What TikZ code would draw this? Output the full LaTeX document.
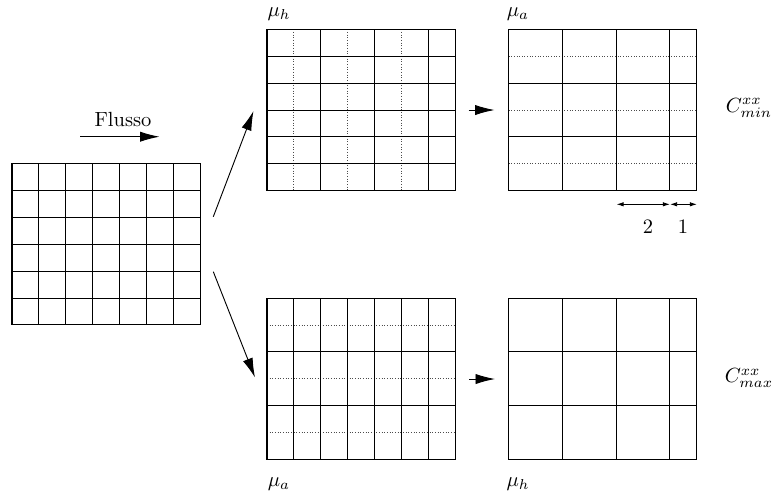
\documentclass[tikz,border=0pt]{standalone}
\usetikzlibrary{arrows.meta}
\begin{document}
\begin{tikzpicture}[x=0.4878pt,y=-0.4878pt,line width=0.45pt,
  bigarrow/.style={-{Latex[length=9.5pt,width=5pt]}},
  dimarrow/.style={{Latex[length=3.5pt,width=2.2pt]}-{Latex[length=3.5pt,width=2.2pt]}},
  dotline/.style={line width=0.4pt,dash pattern=on 0.4pt off 0.9pt,black!70},
  gridframe/.style={draw,rectangle,inner sep=0pt,minimum width=91.85pt,minimum height=78.73pt,line width=0.5pt},
  lbl/.style={inner sep=0pt}]
\useasboundingbox (0,0) rectangle (774,495);
\def\c{26.9}
% ---------- left grid ----------
\begin{scope}[shift={(12,163.5)}]
  \foreach \i in {1,...,6} \draw (\i*\c,0) -- (\i*\c,6*\c);
  \foreach \j in {1,...,5} \draw (0,\j*\c) -- (7*\c,\j*\c);
\end{scope}
\node[gridframe] (g0) at (12+3.5*\c,163.5+3*\c) {};
% ---------- top middle grid ----------
\begin{scope}[shift={(267,29.3)}]
  \foreach \i in {1,3,5} \draw[dotline] (\i*\c,0) -- (\i*\c,6*\c);
  \foreach \i in {2,4,6} \draw (\i*\c,0) -- (\i*\c,6*\c);
  \foreach \j in {1,...,5} \draw (0,\j*\c) -- (7*\c,\j*\c);
\end{scope}
\node[gridframe] (g1) at (267+3.5*\c,29.3+3*\c) {};
% ---------- top right grid ----------
\begin{scope}[shift={(508.5,29.3)}]
  \foreach \j in {1,3,5} \draw[dotline] (0,\j*\c) -- (7*\c,\j*\c);
  \foreach \i in {2,4,6} \draw (\i*\c,0) -- (\i*\c,6*\c);
  \foreach \j in {2,4} \draw (0,\j*\c) -- (7*\c,\j*\c);
\end{scope}
\node[gridframe] (g2) at (508.5+3.5*\c,29.3+3*\c) {};
% ---------- bottom middle grid ----------
\begin{scope}[shift={(267,298)}]
  \foreach \j in {1,3,5} \draw[dotline] (0,\j*\c) -- (7*\c,\j*\c);
  \foreach \i in {1,...,6} \draw (\i*\c,0) -- (\i*\c,6*\c);
  \foreach \j in {2,4} \draw (0,\j*\c) -- (7*\c,\j*\c);
\end{scope}
\node[gridframe] (g3) at (267+3.5*\c,298+3*\c) {};
% ---------- bottom right grid ----------
\begin{scope}[shift={(508.5,298)}]
  \foreach \i in {2,4,6} \draw (\i*\c,0) -- (\i*\c,6*\c);
  \foreach \j in {2,4} \draw (0,\j*\c) -- (7*\c,\j*\c);
\end{scope}
\node[gridframe] (g4) at (508.5+3.5*\c,298+3*\c) {};
% ---------- labels ----------
\node[lbl] (flusso) at (123,119.5) {Flusso};
\node[lbl] (muh1) at (279,14) {$\mu_h$};
\node[lbl] (mua1) at (518,14) {$\mu_a$};
\node[lbl] (cmin) at (749,108) {$C^{xx}_{min}$};
\node[lbl] (cmax) at (749,378) {$C^{xx}_{max}$};
\node[lbl] (mua2) at (279,484) {$\mu_a$};
\node[lbl] (muh2) at (518,484) {$\mu_h$};
\node[lbl] (two) at (648,227) {$2$};
\node[lbl] (one) at (683,227) {$1$};
% ---------- connector end points ----------
\coordinate (f1) at (80,136.7);
\coordinate (f2) at (159.5,136.7);
\coordinate (u1) at (213.3,216.7);
\coordinate (u2) at (253.5,111);
\coordinate (d1) at (213.3,271.7);
\coordinate (d2) at (255,377.5);
\coordinate (m1) at (468.5,110);
\coordinate (m2) at (494.5,110);
\coordinate (n1) at (469,379);
\coordinate (n2) at (495,379);
\coordinate (a1) at (616.5,204.3);
\coordinate (a2) at (670,204.3);
\coordinate (a3) at (697,204.3);
% ---------- arrows ----------
\draw[bigarrow] (f1) -- (f2);
\draw[bigarrow] (u1) -- (u2);
\draw[bigarrow] (d1) -- (d2);
\draw[bigarrow] (m1) -- (m2);
\draw[bigarrow] (n1) -- (n2);
\draw[dimarrow] (a1) -- (a2);
\draw[dimarrow] (a2) -- (a3);
\end{tikzpicture}
\end{document}
